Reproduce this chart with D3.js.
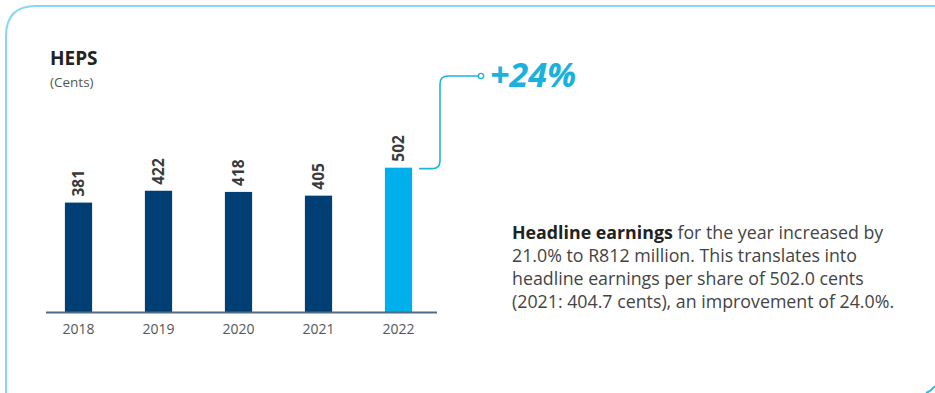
<!DOCTYPE html>
<html>
<head>
<meta charset="utf-8">
<script src="https://cdn.jsdelivr.net/npm/d3@7/dist/d3.min.js"></script>
<style>
  html, body { margin: 0; padding: 0; background: #fff; }
  svg { display: block; }
</style>
</head>
<body>
<svg id="chart" width="935" height="393"></svg>
<script>
const years = ["2018", "2019", "2020", "2021", "2022"];
const heps = [381, 422, 418, 405, 502];
const highlightYear = "2022";
const growthLabel = "+24%";
const titleText = "HEPS";
const unitText = "(Cents)";
const paragraphLines = [
  [{t: "Headline earnings", b: true}, {t: " for the year increased by", b: false}],
  [{t: "21.0% to R812 million. This translates into", b: false}],
  [{t: "headline earnings per share of 502.0 cents", b: false}],
  [{t: "(2021: 404.7 cents), an improvement of 24.0%.", b: false}]
];

const svg = d3.select("#chart");
const font = "'Open Sans', 'Noto Sans', sans-serif";

// panel border
svg.append("path")
  .attr("d", "M6,393 L6,36 Q6,6 36,6 L935,6")
  .attr("fill", "none").attr("stroke", "#86d8ee").attr("stroke-width", 2);
svg.append("path")
  .attr("d", "M926,393 Q931,391 935,386")
  .attr("fill", "none").attr("stroke", "#2cb8e4").attr("stroke-width", 2);

// title
svg.append("text").attr("x", 50).attr("y", 65).text(titleText)
  .attr("font-family", font).attr("font-weight", 700).attr("font-size", 19)
  .attr("fill", "#222");
svg.append("text").attr("x", 50).attr("y", 87).text(unitText)
  .attr("font-family", font).attr("font-size", 13.5).attr("fill", "#555");

// scales
const baseY = 312.5;
const x = d3.scaleBand().domain(years).range([38.5, 438.5]).paddingInner(0.66).paddingOuter(0.33);
const y = d3.scaleLinear().domain([0, 600]).range([baseY, baseY - 173.1]);

const data = years.map((yr, i) => ({year: yr, value: heps[i]}));

svg.selectAll("rect.bar").data(data).enter().append("rect")
  .attr("class", "bar")
  .attr("x", d => x(d.year))
  .attr("width", x.bandwidth())
  .attr("y", d => y(d.value))
  .attr("height", d => y(0) - y(d.value))
  .attr("fill", d => d.year === highlightYear ? "#00b0ec" : "#003f73");

// axis
const axis = svg.append("g").attr("transform", `translate(0,${baseY})`)
  .call(d3.axisBottom(x).tickSize(0).tickPadding(10));
axis.select(".domain").attr("stroke", "#4f6a88").attr("stroke-width", 2)
  .attr("d", "M46,0H437");
axis.selectAll(".tick text").attr("font-family", font).attr("font-size", 14)
  .attr("fill", "#555").attr("dy", "0.85em");

// value labels
svg.selectAll("text.val").data(data).enter().append("text")
  .attr("class", "val")
  .attr("transform", d => `translate(${x(d.year) + x.bandwidth() / 2 + 5.5},${y(d.value) - 6}) rotate(-90)`)
  .attr("font-family", font).attr("font-weight", 700).attr("font-size", 15.5)
  .attr("fill", "#3a3a3a")
  .text(d => d.value);

// connector
const last = data[data.length - 1];
const cx0 = x(last.year) + x.bandwidth() + 7;
const cy0 = y(last.value) + 1;
const vx = 440, ty = 76, r = 8;
svg.append("path")
  .attr("d", `M${cx0},${cy0} H${vx - r} Q${vx},${cy0} ${vx},${cy0 - r} V${ty + r} Q${vx},${ty} ${vx + r},${ty} H${478}`)
  .attr("fill", "none").attr("stroke", "#1db3e0").attr("stroke-width", 1.6);
svg.append("circle").attr("cx", 481).attr("cy", ty).attr("r", 2.6)
  .attr("fill", "#fff").attr("stroke", "#1db3e0").attr("stroke-width", 1.4);
svg.append("text").attr("x", 490).attr("y", 87).text(growthLabel)
  .attr("font-family", font).attr("font-weight", 700).attr("font-style", "italic")
  .attr("font-size", 34).attr("fill", "#1ab1dc");

// paragraph
const para = svg.append("text").attr("font-family", font).attr("font-size", 17.8).attr("fill", "#444");
paragraphLines.forEach((line, i) => {
  const t = para.append("tspan").attr("x", 512).attr("y", 239 + i * 23);
  line.forEach((seg, j) => {
    const s = j === 0 ? t : para.append("tspan");
    s.text(seg.t).attr("font-weight", seg.b ? 700 : 400).attr("fill", seg.b ? "#222" : "#444");
  });
});
</script>
</body>
</html>
